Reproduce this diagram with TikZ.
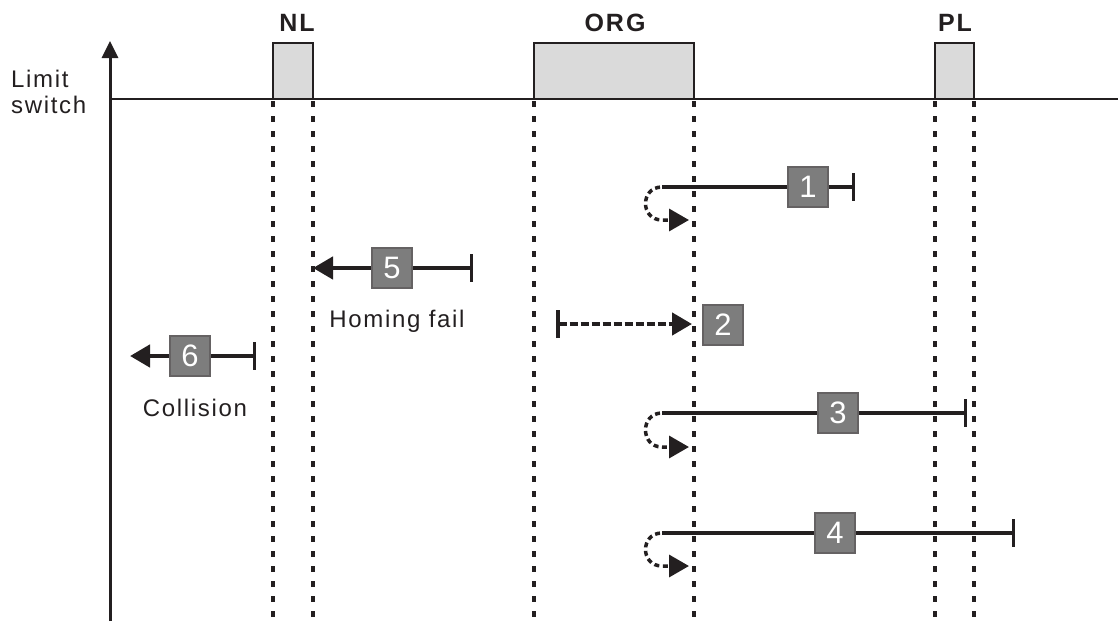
\documentclass[tikz,border=0pt]{standalone}
\usepackage{fontspec}
\setmainfont{Liberation Sans}
\usepackage{tikz}
\usetikzlibrary{arrows.meta,positioning}
\definecolor{LSInk}{RGB}{35,31,32}
\definecolor{LSLight}{RGB}{218,218,218}
\definecolor{LSBox}{RGB}{125,125,125}

\begin{document}
\begin{tikzpicture}[x=1pt,y=-1pt,
        sw/.style={draw=LSInk,fill=LSLight,line width=2.5pt},
        guide/.style={draw=LSInk,line width=3.5pt,dash pattern=on 6pt off 9pt},
        ln/.style={draw=LSInk,line width=4.5pt},
        barr/.style={ln,{Bar[width=28pt,line width=3.5pt]}-{Triangle[length=20pt,width=22pt]}},
        bln/.style={ln,-{Bar[width=28pt,line width=3.5pt]}},
        loop/.style={draw=LSInk,line width=3.5pt,dash pattern=on 5pt off 3.5pt,
                     -{Triangle[length=20pt,width=22pt]}},
        num/.style={draw=LSInk!70,fill=LSBox,line width=1.2pt,minimum size=40pt,
                    inner sep=0pt,text=white,font=\fontsize{31}{31}\selectfont},
        lbl/.style={font=\fontsize{25}{25}\selectfont\bfseries\addfontfeatures{LetterSpace=8},text=LSInk},
        note/.style={font=\fontsize{24}{26}\selectfont\addfontfeatures{LetterSpace=7},text=LSInk}
      ]
        \useasboundingbox (0,0) rectangle (1118,621);
        % limit switch signal
        \coordinate (O) at (110,621);
        \coordinate (Y) at (110,41);
        \coordinate (B0) at (110,99);
        \coordinate (B1) at (1118,99);
        \draw[draw=LSInk,line width=3pt,-{Triangle[length=17pt,width=16pt]}] (O)--(Y);
        \node[note,align=left,anchor=west,inner sep=0pt] (ls) at (11,92) {Limit\\switch};
        \draw[sw] (273,99) rectangle (313,43);
        \draw[sw] (534,99) rectangle (694,43);
        \draw[sw] (935,99) rectangle (974,43);
        \draw[draw=LSInk,line width=2.5pt] (B0)--(B1);
        \node[lbl] (nl) at (297,23) {NL};
        \node[lbl] (org) at (615,23) {ORG};
        \node[lbl] (pl) at (955,23) {PL};
        % guide lines
        \foreach \gx in {273,313,534,694,935,974}
          \draw[guide] (\gx,101)--(\gx,621);
        % 1
        \coordinate (s1) at (662,187);
        \coordinate (e1) at (855,187);
        \draw[bln] (s1)--(e1);
        \draw[loop] (694,187)--(s1) .. controls (640,187) and (640,220) .. (662,220)--(689,220);
        \node[num] (n1) at (808,187) {1};
        % 5
        \coordinate (s5) at (473,268);
        \coordinate (e5) at (313,268);
        \draw[barr] (s5)--(e5);
        \node[num] (n5) at (392,268) {5};
        \node[note] (hf) at (397,321) {Homing fail};
        % 2
        \coordinate (s2) at (556,324);
        \coordinate (e2) at (692,324);
        \draw[barr,dash pattern=on 8pt off 3pt] (s2)--(e2);
        \node[num] (n2) at (723,325) {2};
        % 6
        \coordinate (s6) at (256,356);
        \coordinate (e6) at (130,356);
        \draw[barr] (s6)--(e6);
        \node[num] (n6) at (190,356) {6};
        \node[note] (col) at (195,408) {Collision};
        % 3
        \coordinate (s3) at (662,413);
        \coordinate (e3) at (967,413);
        \draw[bln] (s3)--(e3);
        \draw[loop] (694,413)--(s3) .. controls (640,413) and (640,447) .. (662,447)--(689,447);
        \node[num] (n3) at (838,413) {3};
        % 4
        \coordinate (s4) at (662,533);
        \coordinate (e4) at (1015,533);
        \draw[bln] (s4)--(e4);
        \draw[loop] (694,533)--(s4) .. controls (640,533) and (640,566) .. (662,566)--(689,566);
        \node[num] (n4) at (835,533) {4};
      \end{tikzpicture}
\end{document}
